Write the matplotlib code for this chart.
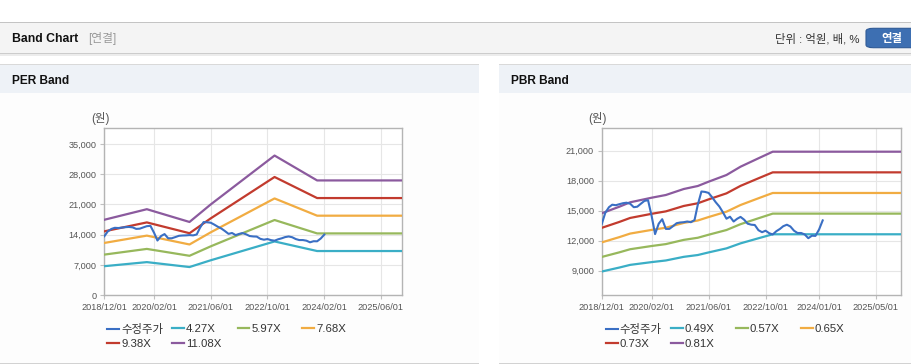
import matplotlib
matplotlib.use('Agg')
import matplotlib.pyplot as plt
from matplotlib.patches import Rectangle, FancyBboxPatch
from matplotlib.legend import Legend
from matplotlib.ticker import FuncFormatter
import pandas as pd

plt.rcParams['font.family'] = ['Liberation Sans', 'Noto Sans CJK KR', 'DejaVu Sans']

# ---------------- data ----------------
price_start = '2018-12-01'
price = [13650, 14800, 15350, 15600, 15550, 15650, 15750, 15800, 15700, 15350,
         15400, 15700, 15980, 16050, 14450, 12660, 13700, 14150, 13180, 13180,
         13450, 13750, 13820, 13850, 13920, 13850, 14060, 15600, 16920, 16880,
         16780, 16350, 15850, 15420, 14850, 14200, 14400, 13920, 14200, 14380,
         14100, 13700, 13600, 13570, 13050, 12850, 13000, 12750, 12620, 12950,
         13180, 13450, 13600, 13420, 13000, 12770, 12770, 12620, 12250, 12500,
         12480, 13120, 14030]

per_dates = ['2018-12-01', '2019-12-01', '2020-12-01', '2021-06-01',
             '2022-12-01', '2023-12-01', '2025-12-01']
per_labels = ['4.27X', '5.97X', '7.68X', '9.38X', '11.08X']
per_4_27 = [6729, 7669, 6532, 8093, 12448, 10232, 10232]
per_5_97 = [9407, 10722, 9132, 11315, 17403, 14305, 14305]
per_7_68 = [12102, 13793, 11748, 14555, 22388, 18402, 18402]
per_9_38 = [14782, 16847, 14350, 17779, 27345, 22477, 22477]
per_11_08 = [17460, 19900, 16950, 21000, 32300, 26550, 26550]

pbr_dates = ['2018-12-01', '2019-05-01', '2019-08-01', '2020-02-01', '2020-06-01',
             '2020-11-01', '2021-03-01', '2021-06-01', '2021-11-01', '2022-03-01',
             '2022-08-01', '2022-12-01', '2025-12-01']
pbr_labels = ['0.49X', '0.57X', '0.65X', '0.73X', '0.81X']
pbr_0_49 = [8916, 9316, 9582, 9860, 10023, 10386, 10568, 10828, 11233, 11735, 12243, 12642, 12642]
pbr_0_57 = [10373, 10837, 11147, 11470, 11660, 12082, 12294, 12596, 13068, 13652, 14243, 14707, 14707]
pbr_0_65 = [11829, 12359, 12712, 13081, 13297, 13779, 14020, 14365, 14902, 15569, 16243, 16772, 16772]
pbr_0_73 = [13284, 13878, 14275, 14690, 14933, 15474, 15744, 16131, 16735, 17483, 18240, 18835, 18835]
pbr_0_81 = [14740, 15400, 15840, 16300, 16570, 17170, 17470, 17900, 18570, 19400, 20240, 20900, 20900]

per_xticks = ['2018-12-01', '2020-02-01', '2021-06-01', '2022-10-01', '2024-02-01', '2025-06-01']
pbr_xticks = ['2018-12-01', '2020-02-01', '2021-06-01', '2022-10-01', '2024-01-01', '2025-05-01']
per_yticks = [0, 7000, 14000, 21000, 28000, 35000]
pbr_yticks = [9000, 12000, 15000, 18000, 21000]
price_label = '수정주가'

# ---------------- style ----------------
W, H = 912, 364
C_PRICE = '#3a6fc4'
BAND_COLORS = ['#3aaec6', '#97b85c', '#f1ac42', '#c23b2e', '#8b5a9e']


def fx(x):
    return x / W


def fy(y):
    return 1 - y / H


fig = plt.figure(figsize=(W / 100, H / 100), dpi=100)
fig.patch.set_facecolor('white')


def rect(x0, y0, x1, y1, color, z=0):
    fig.add_artist(Rectangle((fx(x0), fy(y1)), (x1 - x0) / W, (y1 - y0) / H,
                             transform=fig.transFigure, facecolor=color,
                             edgecolor='none', zorder=z))


# top header
rect(0, 22, W, 53, '#f4f4f4')
rect(0, 21.5, W, 23, '#c4c4c4')
rect(0, 52.5, W, 54, '#cccccc')
rect(0, 54, W, 55.5, '#ececec')
fig.text(fx(12), fy(38.5), 'Band Chart', fontsize=8.8, fontweight='bold',
         color='#111111', va='center', ha='left')
fig.text(fx(88.5), fy(38.5), '[연결]', fontsize=8.5, color='#999999', va='center', ha='left')
fig.text(fx(860), fy(38.5), '단위 : 억원, 배, %', fontsize=8.2, color='#333333',
         va='center', ha='right')
btn = FancyBboxPatch((fx(866), fy(47.7)), (925 - 866) / W, (47.7 - 28.3) / H,
                     boxstyle='round,pad=0,rounding_size=0.008',
                     transform=fig.transFigure, facecolor='#3d6fb2',
                     edgecolor='#2f5a96', linewidth=0.8, zorder=2)
fig.add_artist(btn)
fig.text(fx(892), fy(38.3), '연결', fontsize=8.2, fontweight='bold', color='white',
         va='center', ha='center', zorder=3)

# panels
for (x0, x1) in [(0, 479), (499, W)]:
    rect(x0, 64, x1, 93, '#eef2f7')
    rect(x0, 63.5, x1, 65, '#d9d9d9')
    rect(x0, 93, x1, 362.5, '#fdfdfd')
    rect(x0, 362.5, x1, 364, '#d2d2d2')

fig.text(fx(11.7), fy(80.5), 'PER Band', fontsize=8.6, fontweight='bold',
         color='#111111', va='center', ha='left')
fig.text(fx(511), fy(80.5), 'PBR Band', fontsize=8.6, fontweight='bold',
         color='#111111', va='center', ha='left')


def make_chart(left, right, dates_b, bands, labels, xticks, yticks, ylim, unit_x, leg_x):
    ax = fig.add_axes([fx(left), fy(295.3), (right - left) / W, (295.3 - 128.3) / H])
    ax.set_facecolor('white')
    pdates = pd.date_range(price_start, periods=len(price), freq='MS')
    bd = pd.to_datetime(dates_b)
    handles = []
    hp, = ax.plot(pdates, price, color=C_PRICE, lw=1.5, zorder=6,
                  solid_joinstyle='round')
    handles.append(hp)
    for vals, col in zip(bands, BAND_COLORS):
        h, = ax.plot(bd, vals, color=col, lw=1.6, zorder=4)
        handles.append(h)
    ax.set_xlim(pd.Timestamp('2018-12-01'), pd.Timestamp('2025-12-01'))
    ax.set_ylim(*ylim)
    xt = pd.to_datetime(xticks)
    ax.set_xticks(xt)
    ax.set_xticklabels([d.strftime('%Y/%m/%d') for d in xt])
    ax.set_yticks(yticks)
    ax.yaxis.set_major_formatter(FuncFormatter(lambda v, p: f'{int(v):,}'))
    ax.grid(True, color='#e6e6e6', lw=0.8, zorder=0)
    ax.set_axisbelow(True)
    for s in ax.spines.values():
        s.set_color('#b4b4b4')
        s.set_linewidth(1.0)
    ax.tick_params(axis='both', direction='out', length=3, width=0.8,
                   color='#c0c0c0', labelsize=6.6, labelcolor='#555555', pad=2.5)
    fig.text(fx(unit_x), fy(118.5), '(원)', fontsize=8.3, color='#555555',
             ha='center', va='center')
    # legend: one entry per slot, 4 columns x 2 rows
    all_labels = [price_label] + labels
    for i, (h, lab) in enumerate(zip(handles, all_labels)):
        col, row = i % 4, i // 4
        lg = Legend(ax, [h], [lab],
                    loc='center left',
                    bbox_to_anchor=(fx(leg_x + 65 * col), fy(329.3 + 15 * row)),
                    bbox_transform=fig.transFigure, frameon=False,
                    fontsize=8.2, handlelength=1.0, handletextpad=0.2,
                    borderpad=0, borderaxespad=0, labelcolor='#333333')
        ax.add_artist(lg)
    return ax


make_chart(104.3, 402.3, per_dates,
           [per_4_27, per_5_97, per_7_68, per_9_38, per_11_08], per_labels,
           per_xticks, per_yticks, (0, 38600), 100, 107.5)
make_chart(601.7, 901, pbr_dates,
           [pbr_0_49, pbr_0_57, pbr_0_65, pbr_0_73, pbr_0_81], pbr_labels,
           pbr_xticks, pbr_yticks, (6540, 23240), 597, 606.2)

fig.savefig('out.png', dpi=100)
